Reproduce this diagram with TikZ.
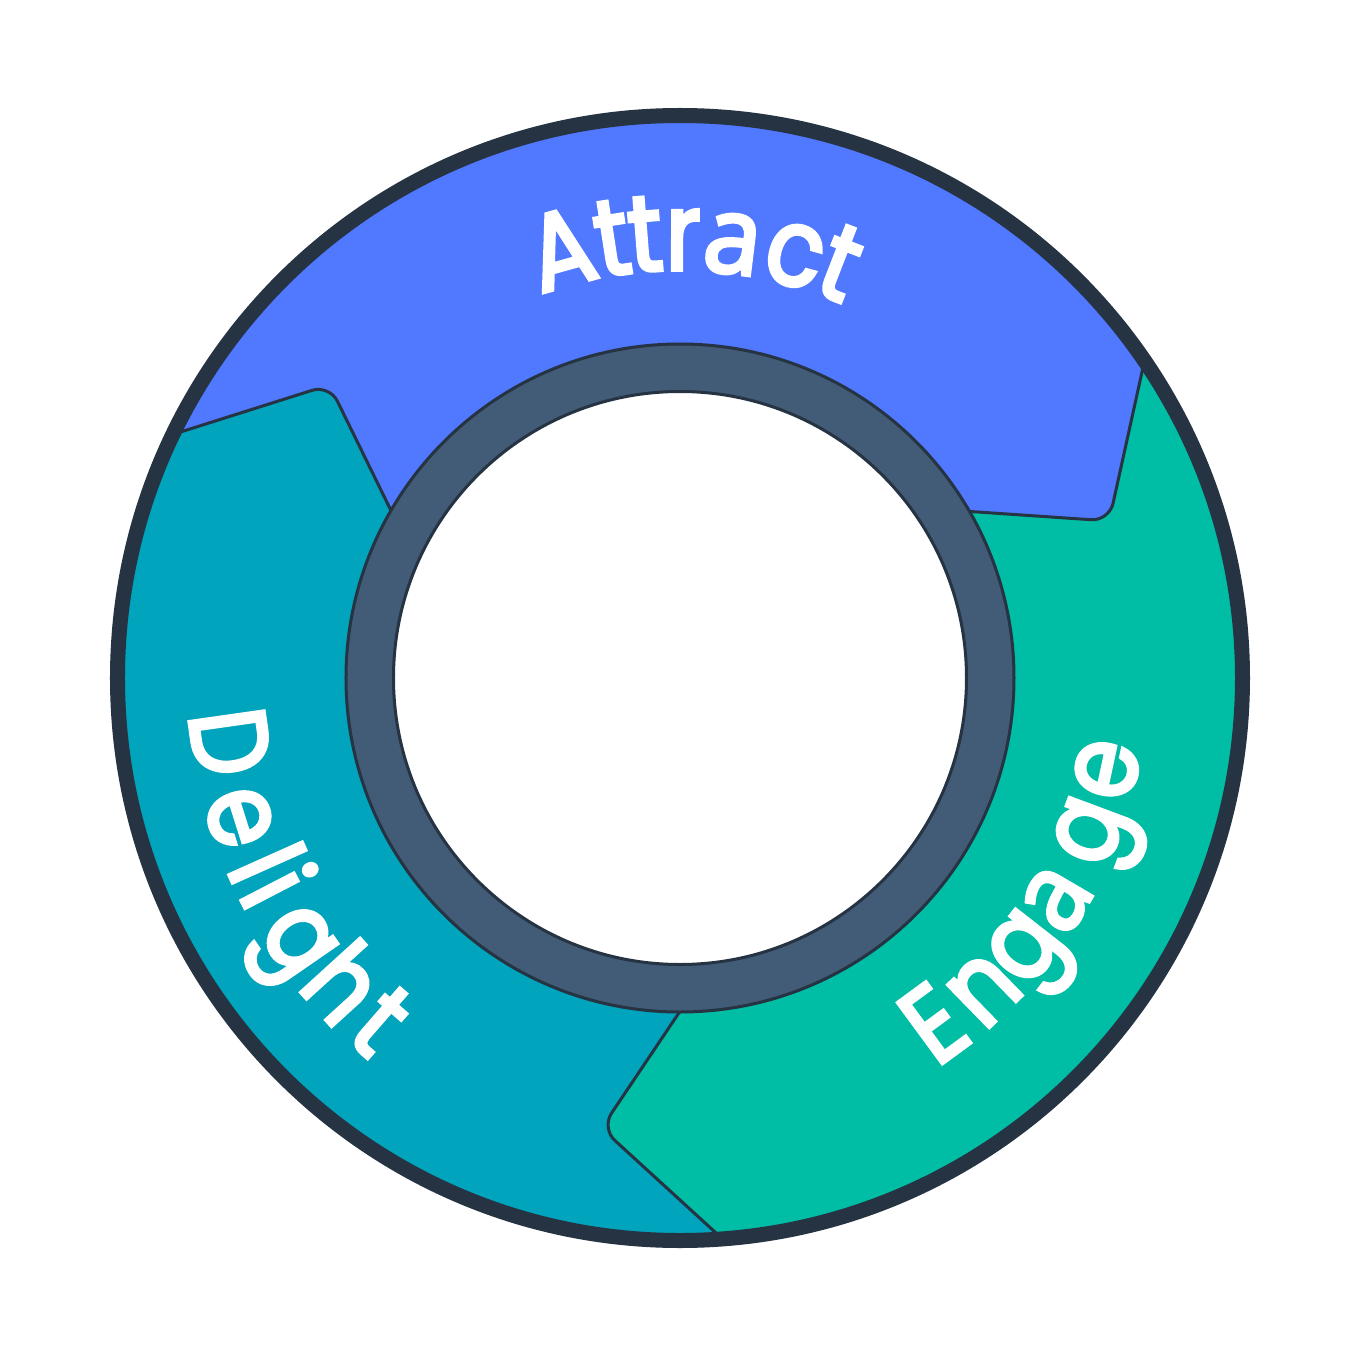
\documentclass[tikz,border=0pt]{standalone}
\usepackage{fontspec}
\usetikzlibrary{calc}
\newfontfamily\labfont{Poppins}[FakeBold=3.5, FakeStretch=0.86]
\newfontfamily\afont{Open Sans}[FakeBold=3.5, FakeStretch=0.95]
\definecolor{ringdark}{HTML}{253342}
\definecolor{slate}{HTML}{425B76}
\definecolor{attractblue}{HTML}{5079FF}
\definecolor{delightteal}{HTML}{00A4BD}
\definecolor{engagegreen}{HTML}{00BDA5}
\newcommand{\dsa}{{\afont\fontsize{108}{108}\selectfont a}}
\begin{document}
\begin{tikzpicture}[x=1pt,y=1pt,
  lab/.style={text=white, font=\labfont\fontsize{108}{108}\selectfont, inner sep=0pt, anchor=base},
  seam/.style={ringdark, line width=3pt, rounded corners=18pt}]
\useasboundingbox (-680,-680) rectangle (680,678);
\foreach \k/\t in {0/20.1,1/140.1,2/260.1}{
  \coordinate (C\k) at (\t:457);
  \coordinate (O\k) at ({\t+13.5}:555);
  \coordinate (I\k) at ({\t+9.7}:335);
  \coordinate (XO\k) at ($(C\k)!2!(O\k)$);
  \coordinate (XI\k) at ($(C\k)!2!(I\k)$);
}
\begin{scope}
  \clip (0,0) circle (560);
  \fill[delightteal] (0,0) circle (560);
  \fill[attractblue, rounded corners=18pt] (XO0) -- (C0) -- (XI0) -- (XI1) -- (C1) -- (XO1) -- (140:1000) -- (90:1000) -- (40:1000) -- cycle;
  \fill[engagegreen, rounded corners=18pt] (XO2) -- (C2) -- (XI2) -- (XI0) -- (C0) -- (XO0) -- (20:1000) -- (-20:1000) -- (-60:1000) -- cycle;
  \foreach \k in {0,1,2} \draw[seam] (XO\k) -- (C\k) -- (XI\k);
\end{scope}
\draw[ringdark, line width=15pt] (0,0) circle (562.5);
\filldraw[fill=slate, draw=ringdark, line width=3pt] (0,0) circle (334);
\filldraw[fill=white, draw=ringdark, line width=3pt] (0,0) circle (286.5);
\foreach \ch/\ang [count=\i] in {A/105.5,t/98.8,t/94.5,r/89.6,\dsa/83.1,c/74.8,t/68.8}
  \node[lab, rotate=\ang-90] (attract\i) at (\ang:408) {\ch};
\foreach \ch/\ang [count=\i] in {D/188.1,e/197.6,l/204.1,i/207.4,g/214.6,h/222.3,t/229.0}
  \node[lab, rotate=\ang+90] (delight\i) at (\ang:492) {\ch};
\foreach \ch/\ang [count=\i] in {E/-53.7,n/-45.7,g/-38.0,\dsa/-30.4,g/-20.5,e/-12.1}
  \node[lab, rotate=\ang+90] (engage\i) at (\ang:466) {\ch};
\end{tikzpicture}
\end{document}
